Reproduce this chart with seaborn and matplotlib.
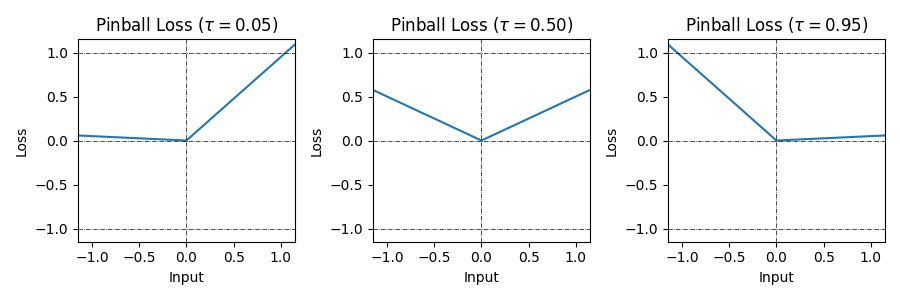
import matplotlib
matplotlib.use("Agg")
import matplotlib.pyplot as plt
import seaborn as sns
import pandas as pd

sns.set_style("ticks")
plt.rcParams['font.family'] = ['DejaVu Sans']
plt.rcParams.update({
    "text.color": "black",
    "axes.labelcolor": "black",
    "xtick.color": "black",
    "ytick.color": "black",
    "axes.edgecolor": "black",
})

taus = [0.05, 0.50, 0.95]
inputs = [-1.15, 0.0, 1.15]
loss_005 = [0.0575, 0.0, 1.0925]
loss_050 = [0.575, 0.0, 0.575]
loss_095 = [1.0925, 0.0, 0.0575]
losses = [loss_005, loss_050, loss_095]

fig, axes = plt.subplots(1, 3, figsize=(9, 3), dpi=100)
for ax, tau, loss in zip(axes, taus, losses):
    df = pd.DataFrame({"Input": inputs, "Loss": loss})
    sns.lineplot(data=df, x="Input", y="Loss", ax=ax, color="#1f77b4", lw=1.5)
    for y in [-1, 0, 1]:
        ax.axhline(y, color="k", ls="-.", lw=0.5)
    ax.axvline(0, color="k", ls="-.", lw=0.5)
    ax.set_xlim(-1.15, 1.15)
    ax.set_ylim(-1.15, 1.15)
    ax.set_xticks([-1.0, -0.5, 0.0, 0.5, 1.0])
    ax.set_yticks([-1.0, -0.5, 0.0, 0.5, 1.0])
    ax.set_title(r"Pinball Loss ($\tau = %.2f$)" % tau, fontsize=12)
    ax.set_xlabel("Input")
    ax.set_ylabel("Loss")
    for s in ax.spines.values():
        s.set_visible(True)
        s.set_color("black")
        s.set_linewidth(0.8)

plt.tight_layout()
fig.savefig("out.png", dpi=100)
